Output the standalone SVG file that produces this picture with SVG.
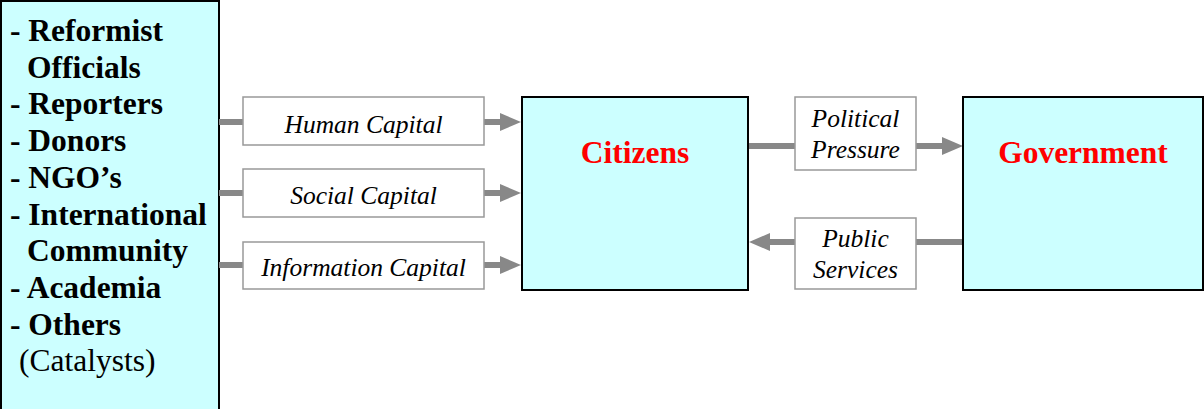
<svg xmlns="http://www.w3.org/2000/svg" width="1204" height="409" viewBox="0 0 1204 409">
  <defs>
    <style>
      .big { fill: #CCFFFF; stroke: #000; stroke-width: 2; }
      .label { fill: #fff; stroke: #999; stroke-width: 1.5; }
      text { font-family: 'Liberation Serif', 'DejaVu Serif', serif; }
      .list { font-size: 31.5px; font-weight: bold; fill: #000; }
      .plain { font-size: 31.5px; fill: #000; }
      .title { font-size: 31.5px; font-weight: bold; fill: #FF0000; text-anchor: middle; }
      .cap { font-size: 25.5px; font-style: italic; fill: #000; text-anchor: middle; }
      .wire { stroke: #888; stroke-width: 6; fill: none; }
      .head { fill: #888; }
    </style>
  </defs>

  <!-- catalysts column -->
  <g id="catalysts" font-family="Liberation Serif, serif">
    <rect class="big" x="1" y="1" width="218" height="420"/>
    <text class="list" x="10" y="41">- Reformist</text>
    <text class="list" x="27" y="77.7">Officials</text>
    <text class="list" x="10" y="114.4">- Reporters</text>
    <text class="list" x="10" y="151">- Donors</text>
    <text class="list" x="10" y="187.8">- NGO’s</text>
    <text class="list" x="10" y="224.5">- International</text>
    <text class="list" x="27" y="261.2">Community</text>
    <text class="list" x="10" y="298">- Academia</text>
    <text class="list" x="10" y="334.6">- Others</text>
    <text class="plain" x="19" y="371.3">(Catalysts)</text>
  </g>

  <!-- connectors -->
  <g id="connectors">
    <!-- capitals into citizens -->
    <line class="wire" x1="219" y1="122" x2="243" y2="122"/>
    <line class="wire" x1="484" y1="122" x2="502" y2="122"/>
    <polygon class="head" points="500,113 521,122 500,131"/>

    <line class="wire" x1="219" y1="193" x2="243" y2="193"/>
    <line class="wire" x1="484" y1="193" x2="502" y2="193"/>
    <polygon class="head" points="500,184 521,193 500,202"/>

    <line class="wire" x1="219" y1="265" x2="243" y2="265"/>
    <line class="wire" x1="484" y1="265" x2="502" y2="265"/>
    <polygon class="head" points="500,256 521,265 500,274"/>

    <!-- citizens to government -->
    <line class="wire" x1="749" y1="146" x2="795" y2="146"/>
    <line class="wire" x1="916" y1="146" x2="944" y2="146"/>
    <polygon class="head" points="942,137 963,146 942,155"/>

    <!-- government to citizens -->
    <line class="wire" x1="916" y1="242" x2="963" y2="242"/>
    <line class="wire" x1="768" y1="242" x2="795" y2="242"/>
    <polygon class="head" points="770,233 749,242 770,251"/>
  </g>

  <g id="human-capital">
    <rect class="label" x="243" y="97" width="241" height="48"/>
    <text class="cap" x="363.5" y="133">Human Capital</text>
  </g>
  <g id="social-capital">
    <rect class="label" x="243" y="169" width="241" height="48"/>
    <text class="cap" x="363.5" y="204">Social Capital</text>
  </g>
  <g id="information-capital">
    <rect class="label" x="243" y="242" width="241" height="47"/>
    <text class="cap" x="363.5" y="276">Information Capital</text>
  </g>

  <g id="citizens">
    <rect class="big" x="522" y="97" width="226" height="193"/>
    <text class="title" x="635" y="163">Citizens</text>
  </g>

  <g id="political-pressure">
    <rect class="label" x="795" y="97" width="121" height="73"/>
    <text class="cap" x="855.5" y="127">Political</text>
    <text class="cap" x="855.5" y="158">Pressure</text>
  </g>
  <g id="public-services">
    <rect class="label" x="795" y="218" width="121" height="71"/>
    <text class="cap" x="855.5" y="247">Public</text>
    <text class="cap" x="855.5" y="278">Services</text>
  </g>

  <g id="government">
    <rect class="big" x="963" y="97" width="240" height="193"/>
    <text class="title" x="1083" y="163">Government</text>
  </g>
</svg>
